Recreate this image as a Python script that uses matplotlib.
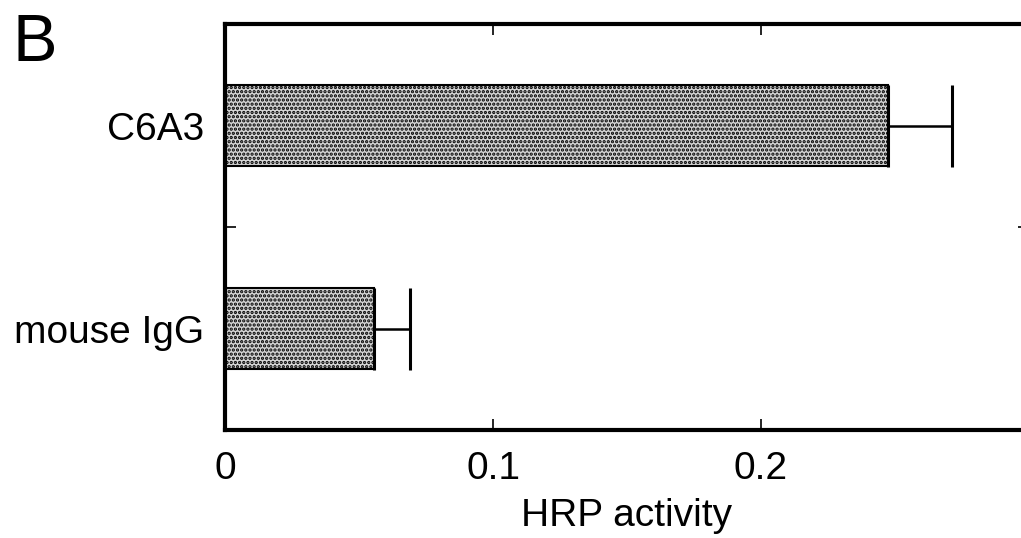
import matplotlib.pyplot as plt
from matplotlib.ticker import FixedLocator

plt.rcParams['font.family'] = ['Liberation Sans', 'DejaVu Sans']
plt.rcParams['hatch.linewidth'] = 1.6
plt.rcParams['hatch.color'] = '#6a6a6a'

# data
groups = ['mouse IgG', 'C6A3']
activity = [0.0556, 0.2474]
error = [0.0134, 0.0239]
xticks = [0, 0.1, 0.2]
xtick_labels = ['0', '0.1', '0.2']

fig = plt.figure(figsize=(10.21, 5.38), dpi=100)
ax = fig.add_axes([0.2204, 0.2007, 0.7875, 0.7546])

pos = list(range(len(groups)))
ax.barh(pos, activity, height=0.4, color='#d4d4d4', edgecolor='black',
        linewidth=1.5, hatch='....', zorder=2)
ax.errorbar(activity, pos, xerr=[[0] * len(error), error], fmt='none',
            ecolor='black', elinewidth=1.8, capsize=29.5, capthick=2.2, zorder=3)

ax.set_xlim(0, 0.3)
ax.set_ylim(-0.5, 1.5)
ax.set_xticks(xticks)
ax.set_xticklabels(xtick_labels)
ax.set_yticks(pos)
ax.set_yticklabels(groups)
ax.yaxis.set_minor_locator(FixedLocator([0.5]))

for s in ax.spines.values():
    s.set_linewidth(3)

ax.tick_params(axis='x', which='major', direction='in', length=8, width=1.2,
               top=True, labelsize=28, pad=15)
ax.tick_params(axis='y', which='major', length=0, labelsize=28, pad=15)
ax.tick_params(axis='y', which='minor', direction='in', length=8, width=1.2,
               right=True)

ax.set_xlabel('HRP activity', fontsize=28, labelpad=8)
fig.text(0.012, 0.975, 'B', fontsize=48, va='top', ha='left')

fig.savefig('out.png', dpi=100)
